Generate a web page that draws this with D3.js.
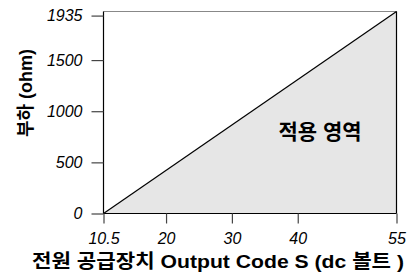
<!DOCTYPE html>
<html><head><meta charset="utf-8">
<script src="https://cdn.jsdelivr.net/npm/d3@7"></script>
<style>body{margin:0;background:#fff}svg{display:block}</style>
</head><body><svg id="c" width="411" height="275"></svg>
<script>
const xTicks = [10.5, 20, 30, 40, 55];
const yTicks = [0, 500, 1000, 1500, 1935];
const lineX = [10.5, 55];
const lineY = [0, 1975];
const xDomain = [10.5, 55];
const yDomain = [0, 1975];
const xTitle = "전원 공급장치 Output Code S (dc 볼트 )";
const yTitle = "부하 (ohm)";
const areaLabel = "적용 영역";

const svg = d3.select("#c");
const L = 103.5, R = 396.5, T = 11.5, B = 213.5;
const x = d3.scaleLinear().domain(xDomain).range([L, R]);
const y = d3.scaleLinear().domain(yDomain).range([B, T]);
const pts = lineX.map((v, i) => [v, lineY[i]]);
const font = "'Liberation Sans', Arial, 'Noto Sans CJK KR', sans-serif";

svg.append("path")
  .datum(pts)
  .attr("d", d3.area().x(d => x(d[0])).y0(y(0)).y1(d => y(d[1])))
  .attr("fill", "#e6e6e6");

svg.append("line").attr("x1", L).attr("x2", R).attr("y1", T).attr("y2", T)
  .attr("stroke", "#888").attr("stroke-width", 1.2);

svg.append("path").datum(pts)
  .attr("d", d3.line().x(d => x(d[0])).y(d => y(d[1])))
  .attr("fill", "none").attr("stroke", "#000").attr("stroke-width", 1.2);

svg.append("line").attr("x1", R).attr("x2", R).attr("y1", T).attr("y2", B)
  .attr("stroke", "#000").attr("stroke-width", 1.2);

const xAxis = svg.append("g").attr("transform", `translate(0,${B})`)
  .call(d3.axisBottom(x).tickValues(xTicks).tickFormat(d => String(d)).tickSize(10).tickPadding(9));
const yAxis = svg.append("g").attr("transform", `translate(${L},0)`)
  .call(d3.axisLeft(y).tickValues(yTicks).tickFormat(d => String(d)).tickSize(12).tickPadding(9));
[xAxis, yAxis].forEach(g => {
  g.select(".domain").attr("stroke", "#000").attr("stroke-width", 1.2);
  g.selectAll(".tick line").attr("stroke", "#444").attr("stroke-width", 1.2);
  g.selectAll(".tick text").attr("fill", "#000")
    .style("font-family", font).style("font-style", "italic").style("font-size", "16px");
});
yAxis.select(".domain").attr("d", `M0,${T}V${B}`);
xAxis.select(".domain").attr("d", `M${L},0H${R}`);

svg.append("text").attr("x", 218).attr("y", 268).attr("text-anchor", "middle")
  .attr("textLength", 372).attr("lengthAdjust", "spacingAndGlyphs")
  .style("font-family", font).style("font-weight", "bold").style("font-size", "19px")
  .text(xTitle);
svg.append("text").attr("transform", "translate(32,93) rotate(-90)").attr("text-anchor", "middle")
  .style("font-family", font).style("font-weight", "bold").style("font-size", "18px")
  .text(yTitle);
svg.append("text").attr("x", 320).attr("y", 139).attr("text-anchor", "middle")
  .style("font-family", font).style("font-weight", "bold").style("font-size", "21px")
  .text(areaLabel);
</script></body></html>
